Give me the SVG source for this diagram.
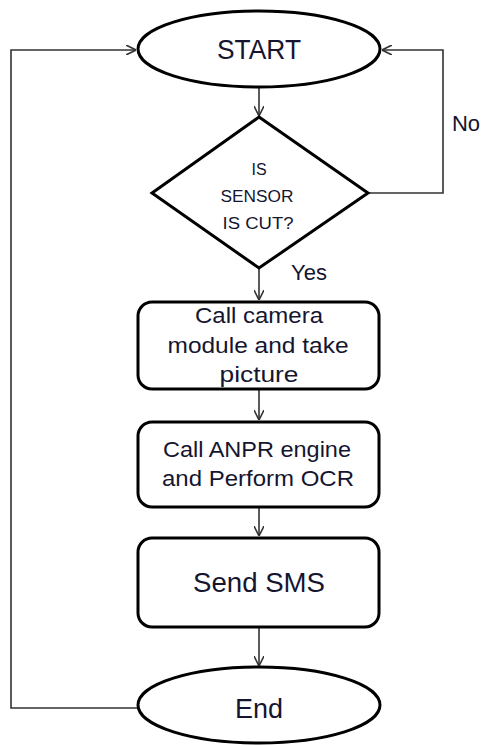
<svg xmlns="http://www.w3.org/2000/svg" width="484" height="745" viewBox="0 0 484 745">
<style>
.shape{fill:#fff;stroke:#000;stroke-width:3}
.conn{fill:none;stroke:#333;stroke-width:1.6}
text{font-family:"Liberation Sans",Arial,sans-serif;fill:#151530;text-anchor:middle}
</style>
<defs>
<marker id="arr" viewBox="0 0 10 10" refX="10" refY="5" markerWidth="10" markerHeight="10" markerUnits="userSpaceOnUse" orient="auto">
<path d="M0,0 L10,5 L0,10" fill="none" stroke="#333" stroke-width="1.6"/>
</marker>
</defs>
<rect width="484" height="745" fill="#fff"/>
<g id="connectors">
<path class="conn" d="M259,88 V116" marker-end="url(#arr)"/>
<path class="conn" d="M368,193 H443 V50 H382" marker-end="url(#arr)"/>
<path class="conn" d="M259,268 V300" marker-end="url(#arr)"/>
<path class="conn" d="M259,389 V420" marker-end="url(#arr)"/>
<path class="conn" d="M259,507 V536" marker-end="url(#arr)"/>
<path class="conn" d="M259,627 V666" marker-end="url(#arr)"/>
<path class="conn" d="M138,708 H11 V50 H136" marker-end="url(#arr)"/>
<text x="466" y="131" font-size="22">No</text>
<text x="309" y="280" font-size="22">Yes</text>
</g>
<g id="start">
<ellipse class="shape" cx="259" cy="49" rx="121" ry="38"/>
<text x="259" y="59" font-size="28" textLength="84" lengthAdjust="spacingAndGlyphs">START</text>
</g>
<g id="decision">
<polygon class="shape" points="259,117 368,193 259,268 152,193"/>
<text x="259" y="175" font-size="16">IS</text>
<text x="257" y="202" font-size="16" textLength="73" lengthAdjust="spacingAndGlyphs">SENSOR</text>
<text x="258" y="229" font-size="16" textLength="71" lengthAdjust="spacingAndGlyphs">IS CUT?</text>
</g>
<g id="camera">
<rect class="shape" x="138" y="302" width="241" height="87" rx="14"/>
<text x="259" y="323" font-size="22" textLength="128" lengthAdjust="spacingAndGlyphs">Call camera</text>
<text x="258" y="353" font-size="22" textLength="181" lengthAdjust="spacingAndGlyphs">module and take</text>
<text x="259" y="382" font-size="22" textLength="79" lengthAdjust="spacingAndGlyphs">picture</text>
</g>
<g id="anpr">
<rect class="shape" x="138" y="422" width="241" height="85" rx="14"/>
<text x="257" y="457" font-size="22" textLength="188" lengthAdjust="spacingAndGlyphs">Call ANPR engine</text>
<text x="258" y="486" font-size="22" textLength="192" lengthAdjust="spacingAndGlyphs">and Perform OCR</text>
</g>
<g id="sms">
<rect class="shape" x="138" y="538" width="241" height="89" rx="14"/>
<text x="259" y="592" font-size="27" textLength="132" lengthAdjust="spacingAndGlyphs">Send SMS</text>
</g>
<g id="end">
<ellipse class="shape" cx="259" cy="705" rx="121" ry="38"/>
<text x="259" y="718" font-size="28" textLength="48" lengthAdjust="spacingAndGlyphs">End</text>
</g>
</svg>
